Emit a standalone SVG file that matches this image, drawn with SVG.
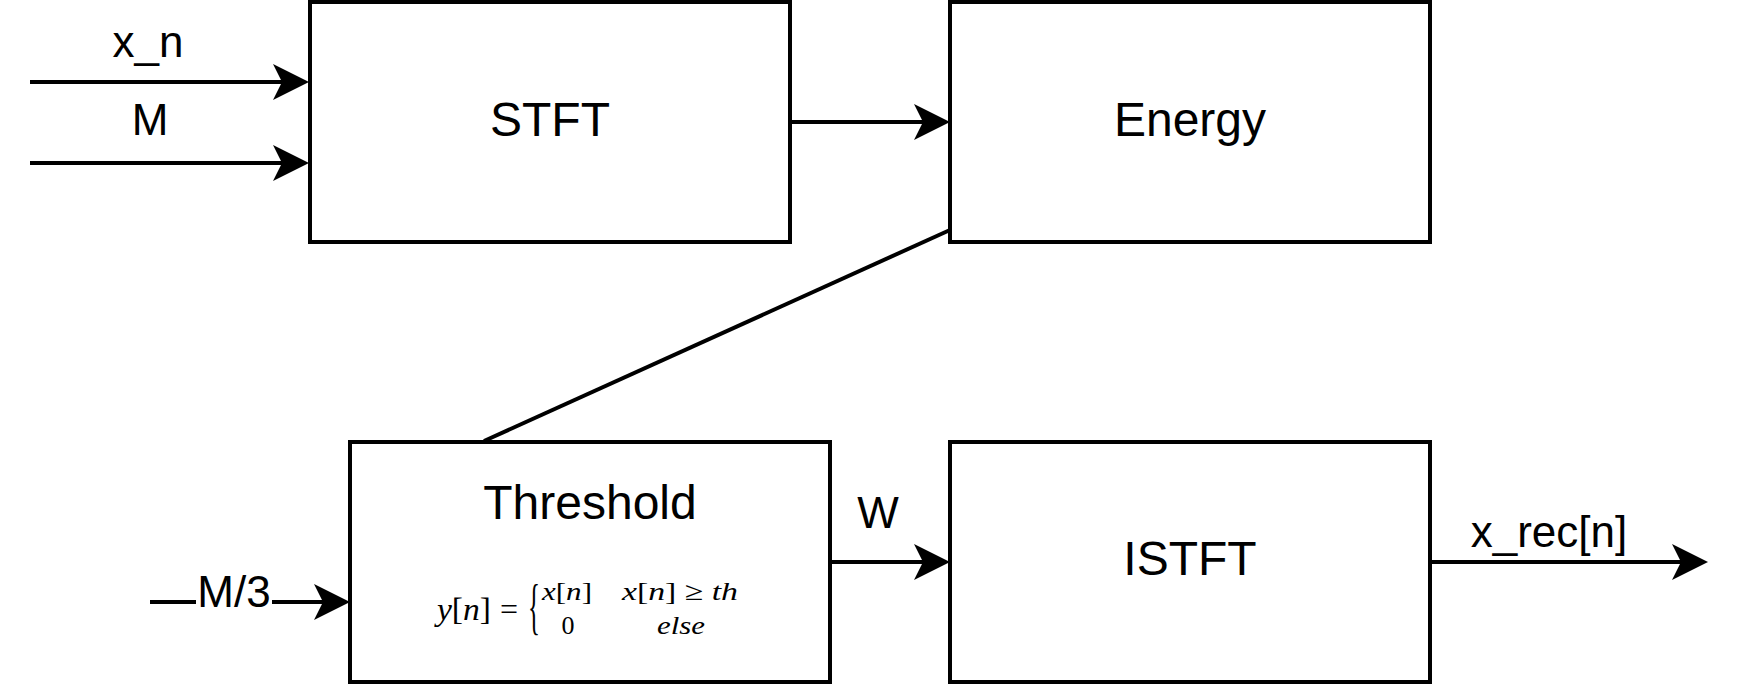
<svg xmlns="http://www.w3.org/2000/svg" width="1744" height="688" viewBox="0 0 1744 688">
  <style>
    .box { fill: #ffffff; stroke: #000000; stroke-width: 4; }
    .conn { fill: none; stroke: #000000; stroke-width: 4; }
    .title { font-family: "Liberation Sans", Arial, sans-serif; font-size: 48px; fill: #000000; text-anchor: middle; }
    .lbl { font-family: "Liberation Sans", Arial, sans-serif; font-size: 44px; fill: #000000; text-anchor: middle; }
    .math { font-family: "Liberation Serif", "DejaVu Serif", serif; fill: #000000; }
    .it { font-style: italic; }
  </style>
  <defs>
    <marker id="arrow" markerUnits="userSpaceOnUse" markerWidth="40" markerHeight="40" refX="27" refY="18" orient="auto">
      <path d="M0,0 L36,18 L0,36 L9,18 Z" fill="#000000"/>
    </marker>
  </defs>
  <rect width="1744" height="688" fill="#ffffff"/>

  <g id="connectors">
    <line class="conn" x1="30" y1="82" x2="300" y2="82" marker-end="url(#arrow)"/>
    <line class="conn" x1="30" y1="163" x2="300" y2="163" marker-end="url(#arrow)"/>
    <line class="conn" x1="790" y1="122" x2="941" y2="122" marker-end="url(#arrow)"/>
    <line class="conn" x1="950" y1="230" x2="484" y2="441"/>
    <line class="conn" x1="150" y1="602" x2="341" y2="602" marker-end="url(#arrow)"/>
    <line class="conn" x1="830" y1="562" x2="941" y2="562" marker-end="url(#arrow)"/>
    <line class="conn" x1="1430" y1="562" x2="1699" y2="562" marker-end="url(#arrow)"/>
    <text class="lbl" x="148" y="57">x_n</text>
    <text class="lbl" x="150" y="135">M</text>
    <rect x="196" y="578" width="76" height="44" fill="#ffffff"/>
    <text class="lbl" x="234" y="607">M/3</text>
    <text class="lbl" x="878" y="528">W</text>
    <text class="lbl" x="1549" y="547">x_rec[n]</text>
  </g>

  <g id="stft">
    <rect class="box" x="310" y="2" width="480" height="240"/>
    <text class="title" x="550" y="136">STFT</text>
  </g>

  <g id="energy">
    <rect class="box" x="950" y="2" width="480" height="240"/>
    <text class="title" x="1190" y="136">Energy</text>
  </g>

  <g id="threshold">
    <rect class="box" x="350" y="442" width="480" height="240"/>
    <text class="title" x="590" y="519">Threshold</text>
    <text class="math" x="437" y="620" font-size="32" textLength="54" lengthAdjust="spacingAndGlyphs"><tspan class="it">y</tspan>[<tspan class="it">n</tspan>]</text>
    <text class="math" x="509" y="620" font-size="32" text-anchor="middle">=</text>
    <text class="math" x="528" y="627" font-size="62" textLength="12" lengthAdjust="spacingAndGlyphs">{</text>
    <text class="math" x="542" y="600" font-size="26" textLength="50" lengthAdjust="spacingAndGlyphs"><tspan class="it">x</tspan>[<tspan class="it">n</tspan>]</text>
    <text class="math" x="622" y="600" font-size="26" textLength="116" lengthAdjust="spacingAndGlyphs"><tspan class="it">x</tspan>[<tspan class="it">n</tspan>] ≥ <tspan class="it">th</tspan></text>
    <text class="math" x="568" y="634" font-size="26" text-anchor="middle">0</text>
    <text class="math it" x="657" y="634" font-size="26" textLength="48" lengthAdjust="spacingAndGlyphs">else</text>
  </g>

  <g id="istft">
    <rect class="box" x="950" y="442" width="480" height="240"/>
    <text class="title" x="1190" y="575">ISTFT</text>
  </g>
</svg>
